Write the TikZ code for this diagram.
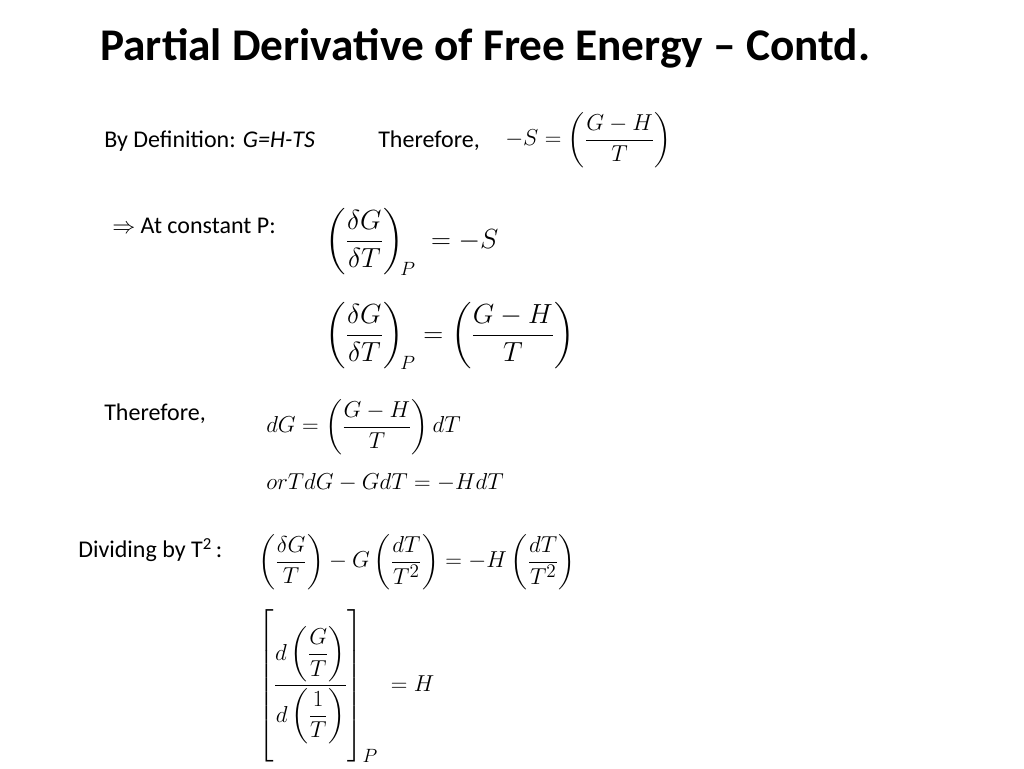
\documentclass[tikz,border=0pt]{standalone}
\usepackage{fontspec}
\setmainfont{Carlito}
\usepackage{amsmath}
\begin{document}
\begin{tikzpicture}[x=0.75pt,y=-0.75pt,
  txt/.style={anchor=west,inner sep=0pt,font=\fontsize{18}{21}\selectfont},
  eq/.style={anchor=west,inner sep=0pt}]
\useasboundingbox (0,0) rectangle (1024,768);
\node[anchor=west,inner sep=0pt,font=\bfseries\fontsize{34}{39}\selectfont] (title) at (100,48) {Partial Derivative of Free Energy -- Contd.};
\node[txt] (def) at (104,141) {By Definition: \textit{G=H-TS}};
\node[txt] (th1) at (378,141) {Therefore,};
\node[eq] (e1) at (505,140) {\fontsize{19}{22}\selectfont$-S=\left(\dfrac{G-H}{T}\rule[-14pt]{0pt}{36pt}\right)$};
\node[txt] (cp) at (112,226) {$\Rightarrow$ At constant P:};
\node[eq] (e2) at (325,242) {\fontsize{22}{26}\selectfont$\left(\dfrac{\delta G}{\delta T}\rule[-14pt]{0pt}{40pt}\right)_{\!P}\;=-S$};
\node[eq] (e3) at (325,336) {\fontsize{22}{26}\selectfont$\left(\dfrac{\delta G}{\delta T}\rule[-14pt]{0pt}{40pt}\right)_{\!P}=\left(\dfrac{G-H}{T}\rule[-14pt]{0pt}{40pt}\right)$};
\node[txt] (th2) at (104,414) {Therefore,};
\node[eq] (e4) at (266,427) {\fontsize{18}{21}\selectfont$dG=\left(\dfrac{G-H}{T}\rule[-12pt]{0pt}{32pt}\right)dT$};
\node[eq] (e5) at (266,482) {\fontsize{18}{21}\selectfont$orTdG-GdT=-HdT$};
\node[txt] (div) at (78,550) {Dividing by T\textsuperscript{2}\,:};
\node[eq] (e6) at (258,562) {\fontsize{19}{23}\selectfont$\left(\dfrac{\delta G}{T}\rule[-13pt]{0pt}{36pt}\right)-G\left(\dfrac{dT}{T^2}\rule[-13pt]{0pt}{36pt}\right)=-H\left(\dfrac{dT}{T^2}\rule[-13pt]{0pt}{36pt}\right)$};
\node[eq] (e7) at (258,686) {\fontsize{19}{23}\selectfont$\left[\dfrac{d\left(\dfrac{G}{T}\right)}{d\left(\dfrac{1}{T}\right)}\rule[-52pt]{0pt}{106pt}\right]_{P}\;=H$};
\end{tikzpicture}
\end{document}
